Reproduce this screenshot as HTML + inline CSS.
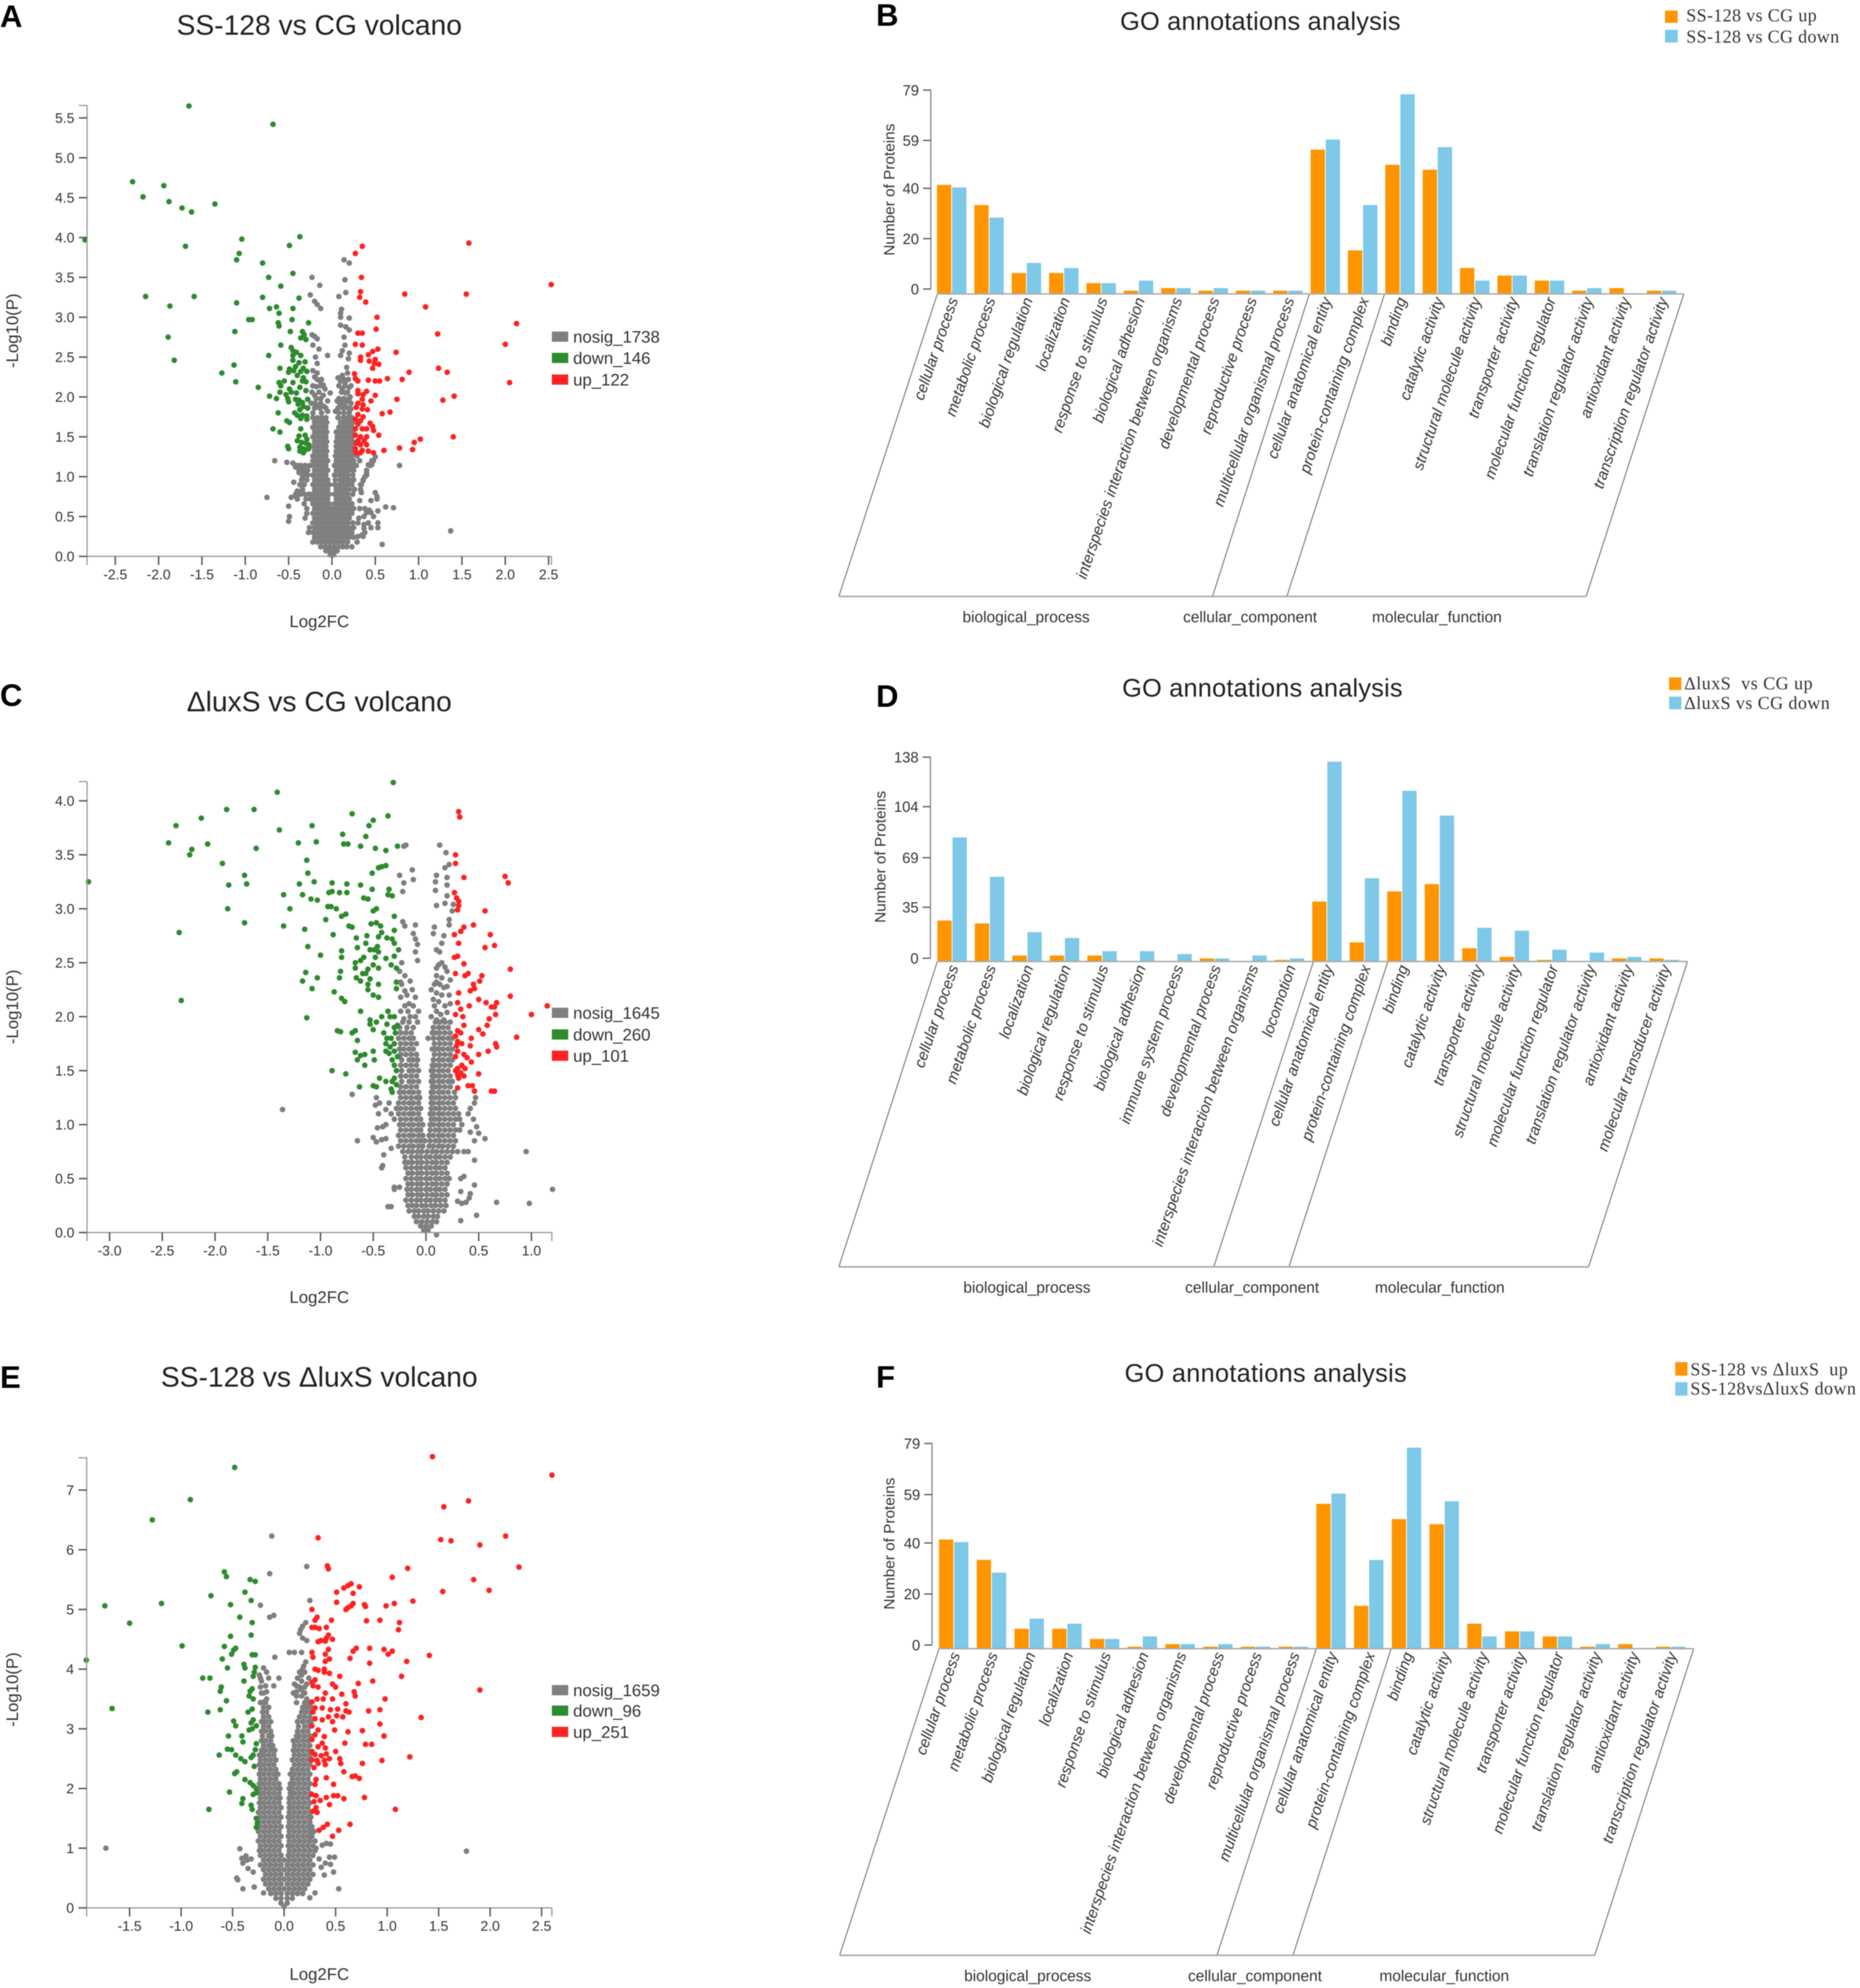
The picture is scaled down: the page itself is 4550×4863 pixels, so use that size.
<!DOCTYPE html>
<html lang="en">
<head>
<meta charset="utf-8">
<title>Volcano plots and GO annotations</title>
<style>
html,body{margin:0;padding:0;background:#fff}
svg{display:block;filter:blur(1px)}
text{font-family:"Liberation Sans","Noto Sans CJK SC",sans-serif;fill:#333}
.serif{font-family:"Liberation Serif","Noto Serif CJK SC",serif;fill:#333}
.letter{font-weight:bold;font-size:76px;fill:#000}
.vt{font-size:69px;fill:#222;text-anchor:middle}
.gt{font-size:62px;fill:#222;text-anchor:middle}
.ax{font-size:41px;fill:#333;text-anchor:middle}
.lg{font-size:41px;fill:#333}
.cat{font-size:37.8px;fill:#333;text-anchor:middle}
.np{font-size:37.5px;fill:#333;text-anchor:middle}
.slant{stroke:#777;stroke-width:2.5;fill:none}
.floor{stroke:#aaa;stroke-width:4}
</style>
</head>
<body>
<svg id="fig" xmlns="http://www.w3.org/2000/svg" width="4550" height="4863" viewBox="0 0 4550 4863">
<rect width="4550" height="4863" fill="#fff"/>

<g id="panelA">
<text class="letter" x="0" y="66">A</text>
<text class="vt" x="781" y="85">SS-128 vs CG volcano</text>
<text class="ax" transform="translate(44 809) rotate(-90)">-Log10(P)</text>
<text class="ax" x="781" y="1534">Log2FC</text>
<rect x="1350" y="811" width="40" height="25" fill="#808080"/>
<text class="lg" x="1402" y="838">nosig_1738</text>
<rect x="1350" y="863" width="40" height="25" fill="#2e8b2e"/>
<text class="lg" x="1402" y="890">down_146</text>
<rect x="1350" y="916" width="40" height="25" fill="#ff2222"/>
<text class="lg" x="1402" y="943">up_122</text>
</g>

<g id="panelC">
<text class="letter" x="0" y="1727">C</text>
<text class="vt" x="781" y="1740">ΔluxS vs CG volcano</text>
<text class="ax" transform="translate(44 2463) rotate(-90)">-Log10(P)</text>
<text class="ax" x="781" y="3187">Log2FC</text>
<rect x="1350" y="2465" width="40" height="25" fill="#808080"/>
<text class="lg" x="1402" y="2492">nosig_1645</text>
<rect x="1350" y="2518" width="40" height="25" fill="#2e8b2e"/>
<text class="lg" x="1402" y="2545">down_260</text>
<rect x="1350" y="2570" width="40" height="25" fill="#ff2222"/>
<text class="lg" x="1402" y="2597">up_101</text>
</g>

<g id="panelE">
<text class="letter" x="0" y="3395">E</text>
<text class="vt" x="781" y="3392">SS-128 vs ΔluxS volcano</text>
<text class="ax" transform="translate(44 4133) rotate(-90)">-Log10(P)</text>
<text class="ax" x="781" y="4843">Log2FC</text>
<rect x="1350" y="4122" width="40" height="25" fill="#808080"/>
<text class="lg" x="1402" y="4149">nosig_1659</text>
<rect x="1350" y="4172" width="40" height="25" fill="#2e8b2e"/>
<text class="lg" x="1402" y="4199">down_96</text>
<rect x="1350" y="4224" width="40" height="25" fill="#ff2222"/>
<text class="lg" x="1402" y="4251">up_251</text>
</g>

<g id="panelB">
<text class="letter" x="2143" y="63">B</text>
<text class="gt" x="3083" y="73" textLength="686">GO annotations analysis</text>
<rect x="4073" y="26" width="31" height="30" fill="#ff9500"/>
<text class="serif" font-size="44" x="4125" y="52" textLength="319">SS-128 vs CG up</text>
<rect x="4073" y="73" width="31" height="31" fill="#7ec8e8"/>
<text class="serif" font-size="44" x="4125" y="104" textLength="374">SS-128 vs CG down</text>
<text class="np" transform="translate(2188 464) rotate(-90)">Number of Proteins</text>
<line class="slant" x1="2293" y1="719" x2="2052" y2="1459"/>
<line class="slant" x1="3203" y1="719" x2="2966" y2="1459"/>
<line class="slant" x1="3387" y1="719" x2="3148" y2="1459"/>
<line class="slant" x1="4119" y1="719" x2="3880" y2="1459"/>
<line class="floor" x1="2052" y1="1459" x2="3880" y2="1459"/>
<text class="cat" x="2510" y="1522">biological_process</text>
<text class="cat" x="3058" y="1522">cellular_component</text>
<text class="cat" x="3515" y="1522">molecular_function</text>
</g>

<g id="panelD">
<text class="letter" x="2143" y="1729">D</text>
<text class="gt" x="3088" y="1704" textLength="686">GO annotations analysis</text>
<rect x="4083" y="1657" width="30" height="31" fill="#ff9500"/>
<text class="serif" font-size="44" x="4120" y="1686" textLength="314" xml:space="preserve">ΔluxS  vs CG up</text>
<rect x="4083" y="1704" width="30" height="31" fill="#7ec8e8"/>
<text class="serif" font-size="44" x="4120" y="1734" textLength="356">ΔluxS vs CG down</text>
<text class="np" transform="translate(2166 2096) rotate(-90)">Number of Proteins</text>
<line class="slant" x1="2293" y1="2352" x2="2052" y2="3099"/>
<line class="slant" x1="3213" y1="2352" x2="2969" y2="3099"/>
<line class="slant" x1="3395" y1="2352" x2="3153" y2="3099"/>
<line class="slant" x1="4128" y1="2352" x2="3886" y2="3099"/>
<line class="floor" x1="2052" y1="3099" x2="3886" y2="3099"/>
<text class="cat" x="2512" y="3162">biological_process</text>
<text class="cat" x="3063" y="3162">cellular_component</text>
<text class="cat" x="3522" y="3162">molecular_function</text>
</g>

<g id="panelF">
<text class="letter" x="2143" y="3394">F</text>
<text class="gt" x="3096" y="3380" textLength="690">GO annotations analysis</text>
<rect x="4098" y="3332" width="30" height="33" fill="#ff9500"/>
<text class="serif" font-size="44" x="4135" y="3364" textLength="385" xml:space="preserve">SS-128 vs ΔluxS  up</text>
<rect x="4098" y="3381" width="30" height="33" fill="#7ec8e8"/>
<text class="serif" font-size="44" x="4135" y="3411" textLength="405">SS-128vsΔluxS down</text>
<text class="np" transform="translate(2188 3776) rotate(-90)">Number of Proteins</text>
<line class="slant" x1="2297" y1="4033" x2="2054" y2="4783"/>
<line class="slant" x1="3220" y1="4033" x2="2977" y2="4783"/>
<line class="slant" x1="3403" y1="4033" x2="3163" y2="4783"/>
<line class="slant" x1="4143" y1="4033" x2="3901" y2="4783"/>
<line class="floor" x1="2054" y1="4783" x2="3901" y2="4783"/>
<text class="cat" x="2514" y="4846">biological_process</text>
<text class="cat" x="3070" y="4846">cellular_component</text>
<text class="cat" x="3533" y="4846">molecular_function</text>
</g>
</svg>

<script>
/* ---------- Volcano A ---------- */
const aXTicks=[-2.5,-2,-1.5,-1,-.5,0,.5,1,1.5,2,2.5];
const aYTicks=[0,.5,1,1.5,2,2.5,3,3.5,4,4.5,5,5.5];
const aDown=[[-1.65,5.65],[-.68,5.42],[-2.3,4.7],[-1.94,4.65],[-2.18,4.51],[-1.88,4.45],[-1.73,4.37],[-1.62,4.32],[-1.35,4.42],[-2.85,3.97],[-1.69,3.89],[-1.04,3.98],[-1.07,3.8],[-1.1,3.72],[-.49,3.9],[-.37,4.01],[-.8,3.68],[-.73,3.5],[-.45,3.55],[-.59,3.39],[-2.15,3.26],[-1.59,3.26],[-1.87,3.14],[-1.1,3.18],[-.8,3.25],[-.38,3.24],[-.72,3.11],[-.64,3.13],[-.45,3.11],[-.61,3.05],[-.96,2.97],[-.92,2.97],[-.46,2.97],[-.62,2.93],[-.61,2.89],[-.27,2.93],[-1.89,2.75],[-1.12,2.82],[-.48,2.82],[-.34,2.82],[-.32,2.78],[-.36,2.74],[-.3,2.72],[-.59,2.65],[-.47,2.62],[-.45,2.58],[-.41,2.56],[-.73,2.52],[-.45,2.52],[-.36,2.52],[-1.82,2.46],[-.45,2.46],[-.31,2.44],[-.42,2.38],[-.38,2.43],[-1.13,2.4],[-.6,2.36],[-.49,2.35],[-.44,2.33],[-.36,2.32],[-.33,2.36],[-.29,2.32],[-1.27,2.3],[-.5,2.31],[-.4,2.27],[-.33,2.24],[-1.11,2.19],[-.61,2.18],[-.55,2.2],[-.45,2.18],[-.34,2.2],[-.3,2.19],[-.85,2.12],[-.59,2.14],[-.49,2.1],[-.37,2.12],[-.3,2.08],[-.6,2.06],[-.53,2.03],[-.47,2.06],[-.41,2.05],[-.72,2.01],[-.64,1.98],[-.51,1.98],[-.5,1.94],[-.42,1.97],[-.38,1.96],[-.34,1.93],[-.28,1.97],[-.39,1.91],[-.33,1.88],[-.28,1.86],[-.37,1.84],[-.43,1.8],[-.62,1.8],[-.4,1.77],[-.34,1.77],[-.29,1.76],[-.36,1.73],[-.29,1.72],[-.52,1.7],[-.49,1.68],[-.68,1.6],[-.36,1.6],[-.6,1.56],[-.31,1.52],[-.38,1.51],[-.29,1.47],[-.4,1.45],[-.35,1.43],[-.3,1.42],[-.27,1.4],[-.51,1.38],[-.5,1.35],[-.37,1.37],[-.33,1.35],[-.3,1.34],[-.27,1.35],[-.37,1.32],[-.33,1.3]];
const aUp=[[1.58,3.93],[.35,3.89],[.27,3.8],[2.53,3.41],[.34,3.5],[.33,3.32],[.84,3.29],[1.55,3.29],[.32,3.25],[.39,3.19],[1.08,3.13],[.52,3],[2.13,2.92],[.51,2.85],[.3,2.8],[.35,2.8],[1.22,2.79],[.27,2.66],[.35,2.65],[2,2.66],[.53,2.6],[.47,2.57],[.42,2.53],[.74,2.56],[.33,2.5],[.5,2.47],[.33,2.46],[.43,2.45],[.49,2.42],[.54,2.41],[.47,2.36],[1.23,2.36],[1.33,2.31],[.89,2.31],[.26,2.29],[.27,2.23],[.64,2.23],[.81,2.22],[.3,2.2],[.42,2.21],[.5,2.2],[.55,2.2],[2.05,2.18],[.3,2.08],[.4,2.07],[.3,2.04],[.36,2.03],[.5,2.02],[1.41,2.01],[1.28,1.96],[.75,1.97],[.35,1.97],[.45,1.95],[.3,1.92],[.36,1.9],[.28,1.87],[.35,1.85],[.41,1.84],[.67,1.81],[.58,1.79],[.3,1.78],[.36,1.75],[.27,1.72],[.33,1.7],[.44,1.67],[.47,1.63],[.3,1.66],[.35,1.6],[.4,1.6],[.27,1.6],[.48,1.58],[1.4,1.5],[.27,1.52],[.33,1.5],[.4,1.5],[.54,1.52],[.3,1.45],[.37,1.45],[1.02,1.47],[.95,1.43],[.28,1.42],[.33,1.4],[.4,1.4],[.78,1.36],[.93,1.34],[.6,1.33],[.27,1.35],[.35,1.33],[.28,1.3],[.33,1.3],[.42,1.32],[.48,1.3]];
const aNosigSparse=[[.14,3.72],[.2,3.68],[-.23,3.5],[.15,3.47],[-.14,3.4],[.16,3.31],[-.25,3.28],[.08,3.26],[-.2,3.2],[-.17,3.16],[-.13,3.11],[.11,3.1],[.1,3.05],[.1,3],[.2,2.99],[.1,2.9],[.16,2.88],[.2,2.84],[.14,2.75],[-.23,2.78],[-.2,2.76],[-.17,2.73],[-.22,2.65],[-.15,2.6],[.15,2.65],[.12,2.58],[.2,2.55],[.1,2.52],[.19,2.48],[-.19,2.5],[-.05,2.52],[-.17,2.42],[-.22,2.33],[-.17,2.3],[.17,2.37],[.18,2.3],[.12,2.27],[.07,2.24],[-.2,2.25],[-.14,2.2],[-.1,2.15],[.1,2.2],[.15,2.18],[.2,2.12],[-.18,2.13],[-.08,2.1],[-.02,2.05],[.12,2.1],[.16,2.05],[.21,2],[-.2,2.02],[-.1,2.02],[-.05,1.95],[.06,1.95],[.12,1.97],[.18,1.95],[-.24,1.92],[-.17,1.9],[-.09,1.88],[.1,1.88],[.16,1.87],[.04,1.82],[.22,1.85],[-.22,1.8],[-.12,1.8],[-.05,1.82],[.08,1.8],[.14,1.8],[.2,1.8],[-.75,.74],[-.66,1.2],[-.52,1.18],[-.45,1.17],[-.42,1.12],[-.36,1.1],[-.33,1.08],[-.31,1.05],[-.38,1.05],[-.34,1],[-.44,.93],[-.41,.75],[-.38,.8],[-.4,.82],[-.4,.72],[-.42,.78],[-.5,.63],[-.49,.5],[-.5,.44],[-.47,.74],[.48,1.2],[.46,1.15],[.5,1.25],[.42,1.15],[.4,1.05],[.38,1],[.36,.95],[.33,.9],[.34,.8],[.32,.7],[.5,.8],[.52,.75],[.52,.72],[.45,.7],[.38,.6],[.32,.6],[.62,.62],[.71,.61],[.43,.58],[.45,.55],[.53,.57],[.4,.55],[.37,.5],[.31,.48],[.3,.42],[.48,.5],[.53,.42],[.53,.36],[.45,.36],[.37,.35],[.37,.4],[.42,.42],[.3,.25],[.35,.27],[.36,.25],[.38,.3],[.58,.15],[.78,1.14],[1.37,.32],[.29,.18]];
const aNosigRows=[
[.02,-.02,.02],[.07,-.07,-.03,.02,.06],[.12,-.13,-.08,-.03,.02,.07,.12,.17,.23],[.18,-.17,-.12,-.07,-.02,.03,.08,.13,.18,-.22],
[.24,-.2,-.15,-.1,-.05,0,.05,.1,.15,.2,.25],[.3,-.27,-.22,-.17,-.12,-.07,-.02,.03,.08,.13,.18,.23],[.36,-.26,-.2,-.15,-.1,-.05,0,.05,.1,.15,.2,.25],
[.42,-.22,-.17,-.12,-.07,-.02,.03,.08,.13,.18,.24],[.48,-.31,-.2,-.15,-.1,-.05,0,.05,.1,.15,.2],[.54,-.29,-.22,-.17,-.12,-.07,-.02,.03,.08,.13,.18,.23],
[.6,-.29,-.2,-.15,-.1,-.05,0,.05,.1,.15,.2,.25],[.66,-.32,-.22,-.17,-.12,-.07,-.03,.03,.08,.13,.18,.23],[.72,-.3,-.25,-.2,-.15,-.1,-.05,.05,.1,.15,.2],
[.78,-.36,-.31,-.26,-.22,-.17,-.12,-.07,-.03,.03,.08,.13,.18,.24],[.84,-.34,-.2,-.15,-.1,-.05,.05,.1,.15,.2,.26,.33],[.9,-.37,-.32,-.22,-.17,-.12,-.07,-.03,.03,.08,.13,.18,.23,.34],
[.96,-.35,-.29,-.2,-.15,-.1,-.05,.04,.1,.15,.2,.25,.36],[1.02,-.33,-.28,-.22,-.17,-.12,-.07,.03,.08,.13,.18,.24,.4],[1.08,-.38,-.33,-.28,-.2,-.15,-.1,-.05,.05,.1,.15,.2,.25,.4],
[1.14,-.4,-.36,-.31,-.26,-.22,-.17,-.12,-.07,.03,.08,.13,.18,.23,.28,.44],[1.2,-.22,-.2,-.15,-.1,-.05,.05,.1,.15,.2,.25,.32,.46],[1.26,-.22,-.17,-.12,-.07,.04,.08,.13,.18,.23,.29],
[1.32,-.2,-.15,-.1,-.06,.05,.1,.15,.2,.24],[1.38,-.22,-.17,-.12,-.07,.05,.08,.13,.18,.23],[1.44,-.2,-.15,-.1,-.06,.05,.1,.15,.2,.24],
[1.5,-.22,-.17,-.12,-.07,.06,.08,.13,.18,.23],[1.56,-.2,-.15,-.1,-.06,.05,.1,.15,.2,.24],[1.62,-.22,-.17,-.12,-.07,.08,.13,.18,.23],
[1.68,-.2,-.15,-.1,-.06,.1,.15,.2,.24],[1.74,-.22,-.17,-.12,-.07,.07,.13,.18,.23],[1.86,-.2,-.14,-.07,.07,.13,.19],[1.92,-.2,-.13,.09,.15,.22],[1.98,-.18,-.13,.08,.14,.2],[2.06,-.23,-.15,.11,.18],[2.14,-.22,-.13,.08,.15,.22],[2.22,-.17,-.12,.1,.14,.19]
];
/* ---------- Volcano C ---------- */
const cXTicks=[-3,-2.5,-2,-1.5,-1,-.5,0,.5,1];
const cYTicks=[0,.5,1,1.5,2,2.5,3,3.5,4];
const cDown=[[-.31,4.17],[-1.41,4.08],[-1.89,3.92],[-1.63,3.92],[-.7,3.88],[-.36,3.86],[-2.13,3.84],[-.5,3.82],[-2.37,3.77],[-1.08,3.77],[-.54,3.77],[-1.39,3.73],[-.79,3.69],[-.57,3.67],[-2.44,3.61],[-2.07,3.6],[-1.21,3.61],[-1.04,3.62],[-.78,3.6],[-.74,3.6],[-.62,3.58],[-.48,3.56],[-.38,3.54],[-.27,3.58],[-1.61,3.56],[-2.22,3.55],[-2.24,3.5],[-1.13,3.45],[-1.93,3.42],[-.42,3.39],[-.38,3.4],[-.45,3.38],[-1.12,3.33],[-.51,3.33],[-1.72,3.31],[-1.06,3.25],[-.89,3.24],[-3.2,3.25],[-1.87,3.22],[-1.7,3.23],[-1.2,3.23],[-.75,3.23],[-.62,3.22],[-.89,3.16],[-.51,3.18],[-.92,3.15],[-.82,3.15],[-.75,3.15],[-.35,3.18],[-.36,3.13],[-.32,3.12],[-1.35,3.13],[-1.17,3.13],[-1.09,3.09],[-1.03,3.08],[-.59,3.1],[-.55,3.09],[-.93,3.02],[-.9,3.02],[-.85,3],[-1.88,3],[-1.29,3],[-.47,3],[-.5,2.98],[-.8,2.93],[-.76,2.95],[-.95,2.9],[-.3,2.93],[-.47,2.87],[-.52,2.86],[-1.72,2.87],[-.73,2.84],[-.7,2.83],[-1.35,2.84],[-1.15,2.81],[-.43,2.84],[-.42,2.78],[-.3,2.8],[-2.34,2.78],[-.88,2.76],[-.66,2.73],[-.56,2.75],[-.45,2.74],[-.37,2.73],[-.32,2.72],[-.3,2.68],[-1.12,2.65],[-.57,2.68],[-.46,2.65],[-.65,2.64],[-.53,2.62],[-.49,2.62],[-.45,2.6],[-.26,2.62],[-.8,2.61],[-1,2.57],[-.8,2.55],[-.59,2.55],[-.62,2.52],[-.48,2.55],[-.38,2.54],[-.3,2.56],[-.67,2.5],[-.5,2.48],[-.33,2.48],[-.67,2.45],[-.55,2.44],[-.45,2.45],[-.28,2.45],[-.57,2.4],[-1.14,2.41],[-.81,2.42],[-.6,2.4],[-.66,2.36],[-.53,2.35],[-1.03,2.36],[-.82,2.36],[-1.17,2.33],[-.62,2.33],[-.55,2.3],[-.28,2.32],[-.45,2.3],[-1.08,2.26],[-.28,2.26],[-.55,2.25],[-.87,2.23],[-.5,2.2],[-.8,2.17],[-.45,2.18],[-.77,2.14],[-2.32,2.15],[-.62,2.05],[-.36,2.05],[-.34,2],[-.42,2],[-.3,2],[-.53,1.97],[-1.13,1.99],[-.37,1.93],[-.53,1.93],[-.27,1.92],[-.47,1.95],[-.3,1.9],[-.84,1.87],[-.81,1.86],[-.67,1.87],[-.7,1.85],[-.29,1.85],[-.4,1.85],[-.5,1.88],[-.37,1.8],[-.33,1.8],[-.38,1.75],[-.3,1.75],[-.65,1.78],[-.34,1.72],[-.38,1.68],[-.3,1.68],[-.67,1.67],[-.5,1.68],[-.58,1.65],[-.62,1.64],[-.35,1.66],[-.27,1.63],[-.32,1.6],[-.49,1.6],[-.65,1.6],[-.3,1.55],[-.58,1.55],[-.89,1.5],[-.76,1.47],[-.28,1.5],[-.3,1.43],[-.44,1.43],[-.32,1.4],[-.38,1.4],[-.28,1.37],[-.47,1.35],[-.63,1.35],[-.5,1.36],[-.33,1.33],[-.32,1.3]];
const cUp=[[.31,3.9],[.32,3.85],[.28,3.5],[.28,3.42],[.36,3.29],[.75,3.3],[.78,3.24],[.27,3.15],[.29,3.1],[.31,3.07],[.31,3.03],[.3,2.99],[.56,2.98],[.45,2.85],[.36,2.83],[.33,2.79],[.27,2.76],[.61,2.76],[.31,2.68],[.65,2.66],[.56,2.64],[.3,2.56],[.27,2.55],[.36,2.49],[.28,2.4],[.4,2.4],[.37,2.38],[.53,2.38],[.51,2.33],[.8,2.44],[.45,2.3],[.42,2.24],[.46,2.26],[.31,2.22],[.8,2.19],[.5,2.16],[.57,2.13],[.3,2.13],[.67,2.13],[.65,2.09],[.62,2.09],[1.15,2.1],[.33,2.07],[.41,2.1],[.28,2.02],[.35,2],[1,2.02],[.66,2.02],[.6,1.98],[.58,1.92],[.36,1.92],[.5,1.88],[.3,1.87],[.33,1.85],[.54,1.84],[.28,1.82],[.43,1.8],[.86,1.81],[.3,1.77],[.66,1.75],[.34,1.75],[.67,1.72],[.29,1.73],[.42,1.73],[.59,1.68],[.3,1.68],[.5,1.65],[.36,1.65],[.28,1.63],[.39,1.62],[.43,1.58],[.34,1.55],[.3,1.52],[.37,1.52],[.28,1.5],[.5,1.47],[.33,1.48],[.3,1.46],[.36,1.45],[.31,1.43],[.4,1.36],[.44,1.36],[.3,1.34],[.46,1.31],[.62,1.31],[.65,1.31]];
const cNosigSparse=[[-.19,3.59],[.13,3.59],[-.21,3.58],[.19,3.52],[.22,3.41],[.18,3.38],[-.13,3.36],[-.25,3.31],[.1,3.31],[.2,3.29],[-.12,3.27],[-.21,3.24],[.09,3.25],[.2,3.22],[-.22,3.16],[.09,3.17],[.2,3.12],[.18,3.05],[.1,3.03],[.26,3.04],[.25,2.98],[.22,2.9],[-.22,2.88],[-.2,2.84],[.08,2.83],[-.1,2.85],[.22,2.85],[.07,2.77],[-.12,2.77],[.17,2.75],[-.1,2.72],[.15,2.68],[-.08,2.67],[-.1,2.6],[.1,2.62],[.13,2.6],[-.08,2.52],[-.23,2.5],[.15,2.5],[.18,2.46],[.1,2.45],[-.25,2.42],[-.2,2.38],[.1,2.38],[.15,2.36],[-.23,2.3],[-.15,2.33],[.08,2.3],[.13,2.3],[.17,2.27],[-.2,2.24],[-.13,2.25],[-.24,2.18],[-.1,2.18],[.1,2.22],[.15,2.2],[.07,2.16],[.12,2.14],[.18,2.1],[-.2,2.1],[-.12,2.1],[-.17,2.05],[-.07,2.05],[.1,2.05],[.05,2],[.14,2.02],[-.21,1.98],[-.15,2],[-.1,2],[.1,1.97],[.17,1.97],[-.38,1.14],[-1.36,1.14],[-.7,1.28],[-.47,1.25],[-.48,1.18],[-.44,1.2],[-.45,1.1],[-.46,.97],[-.41,.98],[-.38,1],[-.65,.85],[-.5,.88],[-.47,.84],[-.42,.86],[-.38,.87],[-.33,.78],[-.4,.72],[-.41,.62],[-.42,.6],[-.3,.42],[-.25,.42],[-.3,.4],[-.36,.24],[-.33,.24],[.42,1.15],[.47,1.25],[.46,1.2],[.4,1.1],[.45,1.05],[.48,.98],[.42,.93],[.5,.92],[.56,.87],[.46,.85],[.36,.75],[.4,.75],[.46,.67],[.36,.52],[.33,.5],[.46,.44],[.33,.38],[.42,.36],[.41,.32],[.38,.28],[.3,.29],[.34,.27],[.33,.11],[.48,.16],[.95,.75],[1.2,.4],[.67,.28],[.98,.27],[.1,-.02],[.12,2.48],[.2,2.42],[.23,2.34],[.2,2.28],[.1,2.32],[.22,2.2],[.05,2.25],[.23,2.12],[.2,2.04],[.08,2.1],[-.24,2.32],[-.18,2.2],[-.16,2.12],[-.24,2.05]];
const cNosigRows=[
[.02,-.02,.02],[.06,-.05,0,.05],[.1,-.09,-.04,.01,.06,.1],[.15,-.11,-.07,-.02,.02,.07,.11],[.2,-.16,-.11,-.07,-.02,.02,.07,.12,.17],
[.25,-.17,-.13,-.09,-.04,0,.05,.09,.14,.19],[.3,-.19,-.14,-.09,-.05,0,.04,.09,.13,.18],[.35,-.17,-.13,-.08,-.04,.01,.06,.1,.15,.2],[.4,-.18,-.14,-.09,-.05,0,.04,.09,.13,.18],
[.45,-.17,-.13,-.08,-.04,.01,.06,.1,.15,.2],[.5,-.19,-.14,-.09,-.05,0,.04,.09,.13,.18,.22],[.55,-.17,-.13,-.08,-.04,.01,.06,.1,.15,.2],[.6,-.19,-.14,-.09,-.05,0,.04,.09,.13,.18],
[.65,-.2,-.17,-.13,-.08,-.04,.01,.06,.1,.15,.2],[.7,-.2,-.14,-.09,-.05,0,.04,.09,.13,.18,.23],[.75,-.22,-.17,-.13,-.08,-.04,.01,.06,.1,.15,.2,.25,.3],[.8,-.26,-.21,-.16,-.12,-.07,-.03,.03,.07,.12,.16,.21,.26],
[.85,-.24,-.19,-.14,-.09,-.05,-.01,.04,.09,.13,.18,.23,.28],[.9,-.26,-.21,-.16,-.12,-.07,-.03,.03,.07,.12,.16,.21,.26],[.95,-.24,-.19,-.14,-.09,-.05,.04,.09,.13,.18,.23,.28,.32],
[1,-.25,-.21,-.16,-.12,-.07,-.03,.04,.07,.12,.16,.21,.26,.34],[1.05,-.3,-.24,-.19,-.14,-.09,-.05,.05,.09,.13,.18,.23,.28,.32],[1.1,-.33,-.26,-.21,-.16,-.12,-.07,.04,.07,.12,.16,.21,.26,.31],
[1.15,-.28,-.24,-.19,-.14,-.09,-.05,.05,.09,.13,.18,.23,.28],[1.2,-.35,-.26,-.21,-.16,-.12,-.07,.05,.07,.12,.16,.21,.26],[1.25,-.24,-.19,-.14,-.09,-.06,.05,.09,.13,.18,.23,.28],
[1.3,-.25,-.21,-.16,-.12,-.07,.05,.07,.12,.16,.21,.27],[1.35,-.24,-.19,-.14,-.09,.06,.09,.13,.18,.23],[1.4,-.23,-.16,-.12,-.07,.05,.07,.12,.16,.21,.25],
[1.45,-.24,-.19,-.14,-.09,.06,.09,.13,.18,.23],[1.5,-.23,-.16,-.12,-.07,.05,.07,.12,.16,.21],[1.55,-.24,-.19,-.14,-.09,.06,.09,.13,.18,.23],
[1.6,-.23,-.16,-.12,-.08,.07,.12,.16,.21,.25],[1.65,-.24,-.19,-.14,-.09,.08,.13,.18,.23],[1.7,-.25,-.21,-.16,-.12,.06,.09,.12,.16,.21,.25],
[1.75,-.24,-.19,-.14,-.09,.08,.13,.18,.23],[1.8,-.26,-.21,-.16,-.12,.02,.07,.12,.16,.21,.25],[1.85,-.24,-.19,-.14,.06,.09,.13,.18,.23],[1.9,-.25,-.18,-.12,.07,.12,.16,.21],[1.95,-.22,-.16,-.08,.09,.13,.18,.23]
];
/* ---------- Volcano E ---------- */
const eXTicks=[-1.5,-1,-.5,0,.5,1,1.5,2,2.5];
const eYTicks=[0,1,2,3,4,5,6,7];
const eDown=[[-.48,7.38],[-.91,6.84],[-1.28,6.5],[-.58,5.63],[-.56,5.55],[-.33,5.5],[-.28,5.47],[-.38,5.29],[-.71,5.23],[-.32,5.15],[-1.74,5.06],[-1.19,5.1],[-.52,5.08],[-.43,4.87],[-.31,4.78],[-1.5,4.77],[-.52,4.55],[-.32,4.57],[-.99,4.39],[-.58,4.38],[-.47,4.35],[-.49,4.32],[-.51,4.25],[-.31,4.24],[-.28,4.24],[-1.92,4.15],[-.6,4.17],[-.39,4.08],[-.38,4.02],[-.55,4.02],[-.28,4.03],[-.29,3.95],[-.3,3.88],[-.79,3.85],[-.72,3.85],[-.39,3.8],[-.31,3.67],[-.33,3.63],[-.61,3.7],[-.62,3.63],[-.34,3.55],[-.3,3.5],[-.56,3.47],[-.31,3.33],[-1.67,3.34],[-.74,3.28],[-.62,3.32],[-.35,3.28],[-.3,3.15],[-.32,3.1],[-.49,3.13],[-.47,3.05],[-.27,3.05],[-.31,3],[-.34,2.98],[-.54,2.88],[-.41,2.88],[-.4,2.78],[-.27,2.75],[-.28,2.65],[-.55,2.66],[-.51,2.65],[-.63,2.56],[-.47,2.56],[-.3,2.56],[-.32,2.52],[-.42,2.5],[-.38,2.45],[-.29,2.37],[-.46,2.28],[-.48,2.25],[-.38,2.15],[-.33,2.1],[-.3,2.05],[-.27,2],[-.27,1.93],[-.3,1.9],[-.53,1.94],[-.4,1.83],[-.41,1.75],[-.32,1.72],[-.31,1.65],[-.73,1.65],[-.27,1.5],[-.27,1.35],[-.26,1.42]];
const eUp=[[1.44,7.56],[2.6,7.25],[1.79,6.82],[1.55,6.72],[.33,6.2],[2.15,6.23],[1.52,6.17],[1.62,6.15],[1.9,6.08],[.42,5.73],[.43,5.68],[1.2,5.69],[2.28,5.71],[1.05,5.54],[1.84,5.5],[.65,5.43],[.62,5.4],[.58,5.36],[.73,5.38],[.51,5.29],[.67,5.27],[1.54,5.3],[1.99,5.32],[.51,5.12],[1.25,5.14],[.67,5.1],[.65,5.06],[.62,5.03],[1.07,5.1],[.78,5.08],[.79,5.05],[.99,5.06],[.27,5],[.6,5],[.32,4.87],[.3,4.82],[.46,4.82],[.8,4.81],[.93,4.82],[1.12,4.78],[.27,4.7],[.3,4.7],[.34,4.68],[.41,4.7],[1.11,4.66],[.43,4.57],[.41,4.52],[.47,4.5],[.33,4.46],[.36,4.48],[.4,4.47],[.7,4.35],[.67,4.3],[.83,4.35],[.97,4.33],[1.05,4.3],[1.01,4.25],[1.41,4.23],[.43,4.33],[.4,4.25],[.27,4.28],[.28,4.2],[.64,4.18],[.44,4.17],[1.19,4.13],[.83,4.1],[.4,4.13],[.3,4],[.33,3.98],[.39,4],[.44,3.93],[.39,3.95],[.54,3.88],[1.14,3.88],[.3,3.82],[.27,3.78],[.86,3.8],[.72,3.76],[.47,3.75],[.5,3.7],[.28,3.72],[.33,3.7],[.4,3.6],[.68,3.62],[.56,3.58],[.69,3.55],[1.9,3.65],[.32,3.5],[.27,3.45],[.38,3.5],[.47,3.5],[.98,3.5],[.6,3.42],[.3,3.35],[.37,3.35],[.45,3.32],[.52,3.33],[.82,3.3],[.93,3.32],[.6,3.3],[.63,3.28],[.28,3.28],[.57,3.2],[.51,3.22],[.43,3.2],[.3,3.17],[.37,3.15],[.47,3.12],[1.33,3.19],[.93,3.08],[.27,3.05],[.33,2.98],[.49,2.98],[.62,2.95],[.76,2.97],[.97,2.88],[.3,2.9],[.39,2.87],[.27,2.82],[.37,2.76],[.59,2.76],[.79,2.74],[.85,2.74],[.33,2.7],[.4,2.68],[.27,2.62],[.5,2.62],[.3,2.57],[.36,2.55],[.41,2.58],[1.22,2.53],[.54,2.5],[.27,2.48],[.32,2.47],[.39,2.47],[.44,2.5],[.95,2.47],[.76,2.42],[.55,2.42],[.33,2.42],[.4,2.4],[.29,2.35],[.58,2.28],[.66,2.2],[.69,2.21],[.73,2.17],[.41,2.18],[.31,2.15],[.3,2.07],[.48,2.07],[.27,1.9],[.31,1.88],[.41,1.85],[.48,1.88],[.52,1.88],[.58,1.83],[.78,1.85],[.35,1.8],[.29,1.78],[.44,1.73],[.31,1.68],[.28,1.62],[.32,1.6],[1.08,1.65],[.42,1.4],[.64,1.4],[.38,1.35],[.34,1.3],[.53,1.3],[.47,1.2]];
const eNosigSparse=[[-.12,6.23],[.22,5.72],[-.14,5.6],[.25,5.15],[-.23,5.07],[-.1,4.9],[-.14,4.87],[.21,4.78],[.18,4.72],[.16,4.66],[.15,4.6],[.18,4.52],[.22,4.48],[.05,4.28],[.1,4.28],[.17,4.28],[-.09,4.2],[.21,4.12],[.19,4.05],[-.2,4.02],[-.17,3.95],[.2,3.95],[.17,3.9],[.24,3.85],[-.22,3.8],[-.15,3.85],[-.05,3.85],[.17,3.8],[.22,3.75],[-.23,3.7],[-.1,3.72],[.17,3.65],[.2,3.6],[-.2,3.6],[.12,3.55],[.17,3.55],[-.17,3.5],[.22,3.5],[-.2,3.45],[-1.73,1],[1.77,.95],[-.43,.99],[-.41,.83],[-.37,.87],[-.4,.75],[-.36,.8],[-.32,.82],[-.35,.66],[-.3,.6],[-.46,.5],[-.45,.47],[-.4,.32],[-.29,.35],[-.2,.25],[.31,1],[.37,1.05],[.41,1.08],[.45,1.07],[.34,.82],[.44,.85],[.49,.85],[.4,.75],[.36,.68],[.48,.6],[.39,.55],[.53,.32],[.3,.25],[.25,.17],[.45,.73],[.12,3.62],[.15,3.7],[.12,3.72],[.1,3.75],[.09,3.6],[.2,3.7],[.13,3.85],[.15,3.95],[.18,4],[-.22,3.6],[-.24,3.9],[-.23,3.85],[-.17,3.62],[-.18,3.72]];
const eNosigRows=[
[.02,0],[.08,-.03,.03],[.16,-.08,-.03,.03,.08],[.24,-.13,-.08,-.03,.03,.08,.13,.18],[.32,-.15,-.1,-.05,0,.05,.1,.15,.2],[.4,-.18,-.13,-.08,-.03,.03,.08,.13,.18,.23],
[.48,-.2,-.15,-.1,-.05,0,.05,.1,.15,.2,.25],[.56,-.18,-.13,-.08,-.03,.03,.08,.13,.18,.23,.28],[.64,-.2,-.15,-.1,-.05,0,.05,.1,.15,.2,.25],[.72,-.23,-.18,-.13,-.08,-.03,.03,.08,.13,.18,.23,.28],
[.8,-.2,-.15,-.1,-.05,0,.05,.1,.15,.2,.25],[.88,-.23,-.18,-.13,-.08,-.03,.04,.08,.13,.18,.23,.28],[.96,-.24,-.2,-.15,-.1,-.05,.05,.1,.15,.2,.25,.3],[1.04,-.23,-.18,-.13,-.08,-.03,.04,.08,.13,.18,.23,.28],
[1.12,-.25,-.2,-.15,-.1,-.05,.05,.1,.15,.2,.25,.3],[1.2,-.23,-.18,-.13,-.08,-.03,.04,.08,.13,.18,.23,.27],[1.28,-.25,-.2,-.15,-.1,-.05,.05,.1,.15,.2,.25,.29],[1.36,-.23,-.18,-.13,-.08,-.03,.04,.08,.13,.18,.23,.27],
[1.44,-.25,-.2,-.15,-.1,-.05,.05,.1,.15,.2,.25],[1.52,-.23,-.18,-.13,-.08,-.03,.04,.08,.13,.18,.23,.26],[1.6,-.25,-.2,-.15,-.1,-.05,.05,.1,.15,.2,.25],[1.68,-.23,-.18,-.13,-.08,-.03,.05,.08,.13,.18,.23],
[1.76,-.24,-.2,-.15,-.1,-.05,.05,.1,.15,.2,.25],[1.84,-.23,-.18,-.13,-.08,-.04,.05,.08,.13,.18,.23],[1.92,-.24,-.2,-.15,-.1,-.05,.06,.1,.15,.2,.25],[2,-.23,-.18,-.13,-.08,-.04,.05,.08,.13,.18,.23],
[2.08,-.24,-.2,-.15,-.1,-.05,.06,.1,.15,.2,.25],[2.16,-.23,-.18,-.13,-.08,.08,.13,.18,.23],[2.24,-.24,-.2,-.15,-.1,-.06,.06,.1,.15,.2,.25],[2.32,-.23,-.18,-.13,-.08,.08,.13,.18,.23],
[2.4,-.24,-.2,-.15,-.1,.1,.15,.2,.25],[2.48,-.23,-.18,-.13,-.08,.08,.13,.18,.23],[2.56,-.24,-.2,-.15,-.1,.1,.15,.2,.25],[2.64,-.22,-.18,-.13,-.09,.09,.13,.18,.23],
[2.72,-.2,-.15,-.11,.1,.15,.2,.25],[2.8,-.22,-.18,-.13,.09,.13,.18,.23],[2.88,-.21,-.15,-.12,.12,.15,.2,.25],[2.96,-.22,-.18,-.13,.13,.18,.23],
[3.04,-.2,-.15,.14,.2,.25],[3.12,-.22,-.18,-.13,.13,.18,.23,.26],[3.2,-.2,-.15,.15,.2,.25],[3.28,-.21,-.17,.17,.21,.25],[3.36,-.2,-.15,.18,.22,.26],[3.44,-.23,-.18,.12,.2,.24]
];
/* ---------- GO bars ---------- */
const goCategoriesB=["cellular process","metabolic process","biological regulation","localization","response to stimulus","biological adhesion","interspecies interaction between organisms","developmental process","reproductive process","multicellular organismal process","cellular anatomical entity","protein-containing complex","binding","catalytic activity","structural molecule activity","transporter activity","molecular function regulator","translation regulator activity","antioxidant activity","transcription regulator activity"];
const goUpB=[42,34,7,7,3,0,1,0,0,0,56,16,50,48,9,6,4,0,1,0];
const goDownB=[41,29,11,9,3,4,1,1,0,0,60,34,78,57,4,6,4,1,null,0];
const goTicksB=[0,20,40,59,79];
const goCategoriesD=["cellular process","metabolic process","localization","biological regulation","response to stimulus","biological adhesion","immune system process","developmental process","interspecies interaction between organisms","locomotion","cellular anatomical entity","protein-containing complex","binding","catalytic activity","transporter activity","structural molecule activity","molecular function regulator","translation regulator activity","antioxidant activity","molecular transducer activity"];
const goUpD=[27,25,3,3,3,null,null,1,null,0,40,12,47,52,8,2,0,null,1,1];
const goDownD=[84,57,19,15,6,6,4,1,3,1,136,56,116,99,22,20,7,5,2,0];
const goTicksD=[0,35,69,104,138];
const goCategoriesF=["cellular process","metabolic process","biological regulation","localization","response to stimulus","biological adhesion","interspecies interaction between organisms","developmental process","reproductive process","multicellular organismal process","cellular anatomical entity","protein-containing complex","binding","catalytic activity","structural molecule activity","transporter activity","molecular function regulator","translation regulator activity","antioxidant activity","transcription regulator activity"];
const goUpF=[42,34,7,7,3,0,1,0,0,0,56,16,50,48,9,6,4,0,1,0];
const goDownF=[41,29,11,9,3,4,1,1,0,0,60,34,78,57,4,6,4,1,null,0];
const goTicksF=[0,20,40,59,79];

const SVGNS='http://www.w3.org/2000/svg';
function node(parent,tag,attrs,txt){
  const el=document.createElementNS(SVGNS,tag);
  for(const k in attrs)el.setAttribute(k,attrs[k]);
  if(txt!==undefined)el.textContent=txt;
  parent.appendChild(el);
  return el;
}
function dot(g,x,y,fill,name){
  const el=node(g,'circle',{cx:x,cy:y,r:6.8,fill:fill});
  
  
}
function drawVolcano(cfg){
  const g=document.getElementById(cfg.id);
  const sx=v=>cfg.x0+v*cfg.xk;
  const sy=v=>cfg.y0-v*cfg.yk;
  cfg.rows.forEach(r=>{r.slice(1).forEach(x=>dot(g,sx(x),sy(r[0]),'#7f7f7f','nosig-point'));});
  cfg.sparse.forEach(p=>dot(g,sx(p[0]),sy(p[1]),'#7f7f7f','nosig-point'));
  cfg.down.forEach(p=>dot(g,sx(p[0]),sy(p[1]),'#2e8b2e','down-point'));
  cfg.up.forEach(p=>dot(g,sx(p[0]),sy(p[1]),'#ff2222','up-point'));
  const yAxis=node(g,'line',{x1:cfg.left,y1:cfg.top,x2:cfg.left,y2:cfg.y0+21,stroke:'#999','stroke-width':3});
  
  
  const xAxis=node(g,'line',{x1:cfg.left-20,y1:cfg.y0,x2:cfg.right,y2:cfg.y0,stroke:'#999','stroke-width':3});
  
  
  const topTick=node(g,'line',{x1:cfg.left-20,y1:cfg.top,x2:cfg.left,y2:cfg.top,stroke:'#999','stroke-width':3});
  
  
  const endTick=node(g,'line',{x1:cfg.right,y1:cfg.y0,x2:cfg.right,y2:cfg.y0+21,stroke:'#999','stroke-width':3});
  
  
  cfg.xTicks.forEach(v=>{
    const t=node(g,'line',{x1:sx(v),y1:cfg.y0,x2:sx(v),y2:cfg.y0+21,stroke:'#555','stroke-width':3.5});
    
    
    const l=node(g,'text',{x:sx(v),y:cfg.y0+56,'font-size':34,'text-anchor':'middle'},v.toFixed(1));
    
    
  });
  cfg.yTicks.forEach(v=>{
    const t=node(g,'line',{x1:cfg.left-20,y1:sy(v),x2:cfg.left,y2:sy(v),stroke:'#555','stroke-width':3.5});
    
    
    const l=node(g,'text',{x:cfg.left-31,y:sy(v)+12,'font-size':34,'text-anchor':'end'},cfg.intY?String(v):v.toFixed(1));
    
    
  });
}
function drawGo(cfg){
  const g=document.getElementById(cfg.id);
  const sy=v=>cfg.y0-v*cfg.k;
  const bar=(i,v,off,fill,name)=>{
    if(v===null)return;
    const b=node(g,'rect',{x:cfg.x0+i*cfg.pitch+off,y:sy(v),width:35,height:cfg.base-sy(v),fill:fill});
    
    
  };
  cfg.cats.forEach((c,i)=>{
    bar(i,cfg.up[i],0,'#ff9500','bar-up');
    bar(i,cfg.down[i],37,'#7ec8e8','bar-down');
    const lx=cfg.x0+i*cfg.pitch+52;
    const ly=cfg.base+14;
    const t=node(g,'text',{x:lx,y:ly,'font-size':37.8,'font-style':'italic','text-anchor':'end',transform:'rotate(-71 '+lx+' '+ly+')',style:'fill:#333'},c);
    
    
  });
  const base=node(g,'line',{x1:cfg.x0,y1:cfg.base,x2:cfg.end,y2:cfg.base,stroke:'#aaa','stroke-width':3.5});
  
  
  const yTop=sy(cfg.ticks[cfg.ticks.length-1])-cfg.tickOff;
  const yBot=sy(0)-cfg.tickOff;
  const ax=node(g,'line',{x1:cfg.ax,y1:yTop,x2:cfg.ax,y2:yBot,stroke:'#888','stroke-width':3});
  
  
  cfg.ticks.forEach(v=>{
    const y=sy(v)-cfg.tickOff;
    const t=node(g,'line',{x1:cfg.ax-19,y1:y,x2:cfg.ax,y2:y,stroke:'#555','stroke-width':3});
    
    
    const l=node(g,'text',{x:cfg.ax-29,y:y+13,'font-size':36,'text-anchor':'end'},String(v));
    
    
  });
}
drawVolcano({id:'panelA',x0:812,xk:212,y0:1361,yk:195,left:213,right:1349,top:258,xTicks:aXTicks,yTicks:aYTicks,rows:aNosigRows,sparse:aNosigSparse,down:aDown,up:aUp});
drawVolcano({id:'panelC',x0:1042,xk:258,y0:3015,yk:264,left:213,right:1350,top:1912,xTicks:cXTicks,yTicks:cYTicks,rows:cNosigRows,sparse:cNosigSparse,down:cDown,up:cUp});
drawVolcano({id:'panelE',x0:695,xk:252,y0:4667,yk:146,left:212,right:1350,top:3566,xTicks:eXTicks,yTicks:eYTicks,intY:true,rows:eNosigRows,sparse:eNosigSparse,down:eDown,up:eUp});
drawGo({id:'panelB',x0:2292,pitch:91.4,y0:711,k:6.16,base:719,end:4119,ax:2277,tickOff:4,cats:goCategoriesB,up:goUpB,down:goDownB,ticks:goTicksB});
drawGo({id:'panelD',x0:2293,pitch:91.7,y0:2348,k:3.565,base:2352,end:4128,ax:2276,tickOff:4,cats:goCategoriesD,up:goUpD,down:goDownD,ticks:goTicksD});
drawGo({id:'panelF',x0:2297,pitch:92.3,y0:4028,k:6.24,base:4033,end:4143,ax:2280,tickOff:4,cats:goCategoriesF,up:goUpF,down:goDownF,ticks:goTicksF});
</script>
</body>
</html>
